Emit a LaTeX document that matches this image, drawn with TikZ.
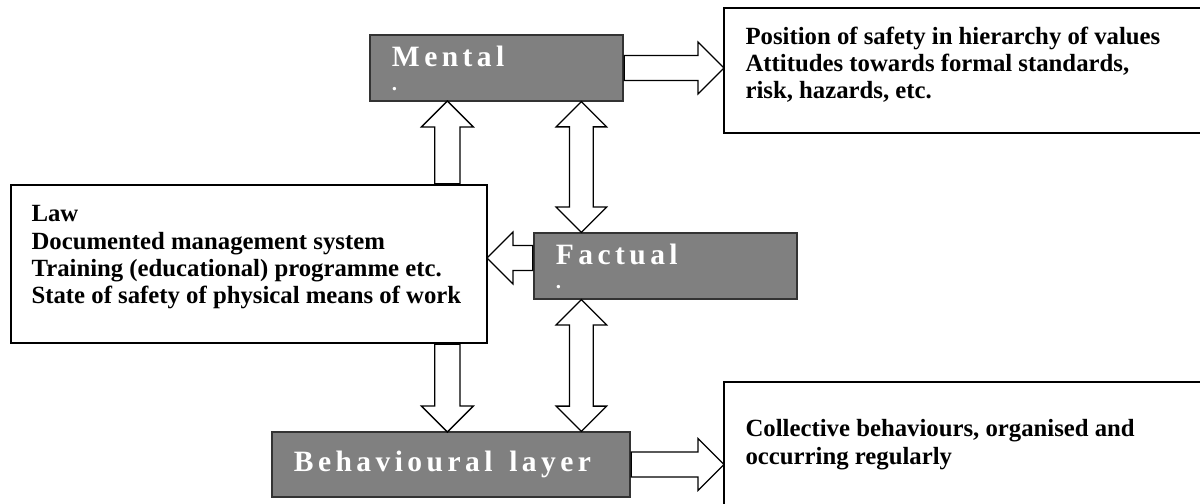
\documentclass[tikz,border=0pt]{standalone}
\usepackage{fontspec}
\setmainfont{Liberation Serif}
\usetikzlibrary{shapes.arrows,calc}

\newcommand{\layerfont}{\fontsize{21}{24}\selectfont\bfseries\addfontfeature{LetterSpace=15}}
\newcommand{\infofont}{\fontsize{17.6}{19.4}\selectfont\bfseries}
% hollow block arrows between two points
\newcommand{\blockarrow}[2]{%
  \path let \p1=(#1), \p2=(#2), \n1={veclen(\x2-\x1,\y2-\y1)}, \n2={atan2(\y2-\y1,\x2-\x1)} in
    node[sarrow, anchor=tail, minimum height=\n1, rotate=\n2] at (\p1) {};}
\newcommand{\twowayarrow}[2]{%
  \path let \p1=(#1), \p2=(#2), \n1={veclen(\x2-\x1,\y2-\y1)}, \n2={atan2(\y2-\y1,\x2-\x1)} in
    node[darrow, minimum height=\n1, rotate=\n2] at ($(\p1)!0.5!(\p2)$) {};}

\begin{document}
\begin{tikzpicture}[x=0.025cm,y=-0.025cm,
  layer/.style={draw=black!80, fill=black!50, line width=0.9pt, text=white, font=\layerfont, align=left, inner xsep=0.55cm},
  info/.style={draw, line width=0.9pt, fill=white},
  infotext/.style={font=\infofont, align=left, inner sep=0pt, anchor=north west},
  sarrow/.style={single arrow, draw, line width=0.9pt, fill=white, inner xsep=0pt, inner ysep=8.5pt, single arrow head extend=9.5pt},
  darrow/.style={double arrow, draw, line width=0.9pt, fill=white, inner xsep=0pt, inner ysep=8pt, double arrow head extend=9.5pt}]

	\useasboundingbox (0,0) rectangle (1200,504);

	%layers
	\node[layer, minimum width=6.325cm, minimum height=1.65cm, text width=5.225cm] (mental) at (496.5,68) {Mental\\[-7pt]{\fontsize{15}{15}\selectfont.}};
	\node[layer, minimum width=6.575cm, minimum height=1.65cm, text width=5.475cm] (factual) at (665.5,266) {Factual\\[-7pt]{\fontsize{15}{15}\selectfont.}};
	\node[layer, minimum width=8.95cm, minimum height=1.625cm, text width=7.85cm] (behav) at (451,464.5) {Behavioural\hspace{5pt} layer};

	%description boxes
	\node[info, minimum width=11.9cm, minimum height=3.95cm] (law) at (249,264) {};
	\node[info, minimum width=11.95cm, minimum height=3.125cm] (values) at (963,70.5) {};
	\node[info, minimum width=11.95cm, minimum height=3.95cm] (collective) at (963,461) {};

	\node[infotext] (lawtxt) at ([shift={(21,21)}]law.north west) {Law\\Documented management system\\Training (educational) programme etc.\\State of safety of physical means of work};
	\node[infotext] (valuestxt) at ([shift={(22,19)}]values.north west) {Position of safety in hierarchy of values\\Attitudes towards formal standards,\\risk, hazards, etc.};
	\node[infotext] (colltxt) at ([shift={(22,38)}]collective.north west) {Collective behaviours, organised and\\occurring regularly};

	%arrows
	\coordinate (lx) at ([xshift=1.95cm]mental.south west); %left column
	\coordinate (fx) at ([xshift=1.2cm]factual.north west); %middle column
	\coordinate (fw) at ([yshift=0.2cm]factual.west); %factual to law

	\blockarrow{mental.east}{mental.east -| values.west}
	\blockarrow{lx |- law.north}{lx}
	\twowayarrow{fx |- mental.south}{fx}
	\blockarrow{fw}{fw -| law.east}
	\twowayarrow{fx |- factual.south}{fx |- behav.north}
	\blockarrow{lx |- law.south}{lx |- behav.north}
	\blockarrow{behav.east}{behav.east -| collective.west}
\end{tikzpicture}
\end{document}
